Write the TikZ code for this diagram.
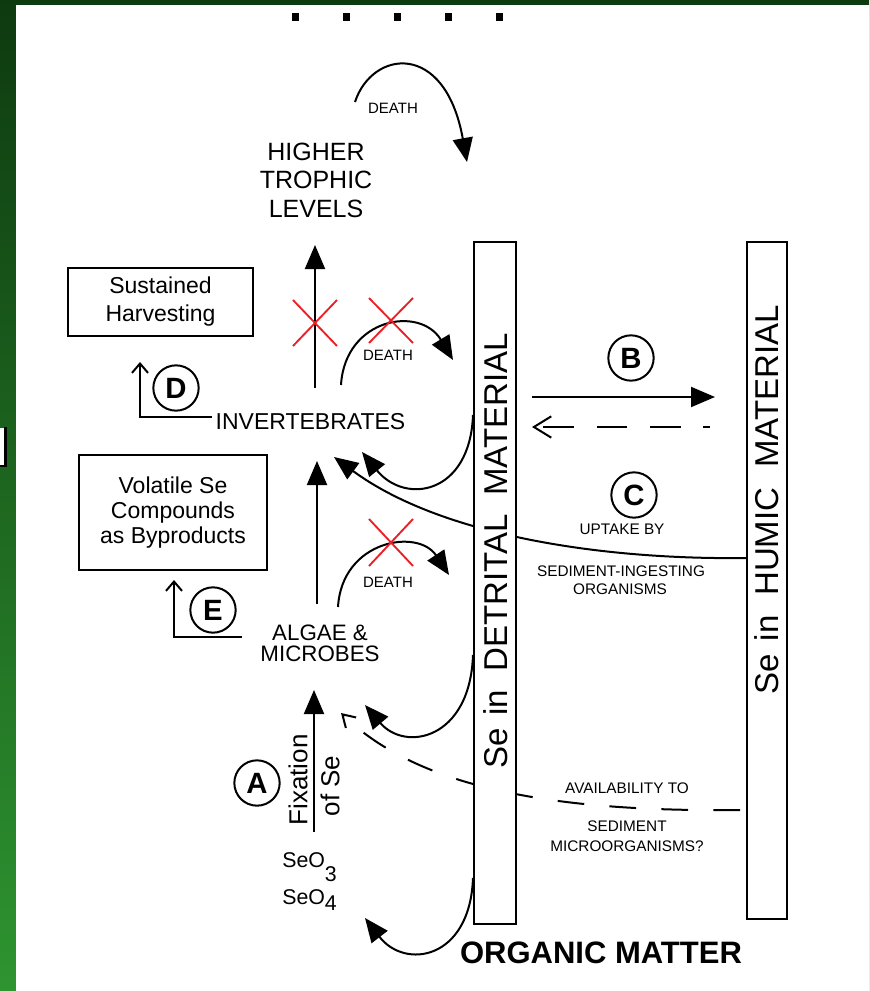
\documentclass[tikz,border=0pt]{standalone}
\usepackage{fontspec}
\setmainfont{Liberation Sans}
\usetikzlibrary{arrows.meta}
\definecolor{gdark}{RGB}{14,58,16}
\definecolor{glight}{RGB}{46,148,48}
\definecolor{xred}{RGB}{234,32,38}
\newcommand{\fsz}[2]{\fontsize{#1}{#2}\selectfont}
\begin{document}
\begin{tikzpicture}[x=0.75pt,y=-0.75pt,
 ln/.style={line width=1.5pt},
 hd/.style={-{Triangle[length=18pt,width=15pt]}},
 barb/.style={-{Straight Barb[length=7pt,width=12pt]}},
 obarb/.style={-{Straight Barb[length=13pt,width=16pt]}},
 sbarb/.style={-{Straight Barb[length=9pt,width=11pt]}},
 circ/.style={draw,circle,line width=1.5pt,minimum size=34pt,inner sep=0pt,font=\bfseries\fsz{22pt}{22pt}},
 redx/.style={draw=xred,line width=1.4pt},
 bar/.style={draw,line width=1.5pt,fill=white,inner sep=0pt},
 small/.style={font=\fsz{11.5pt}{12pt},inner sep=0pt},
 lab/.style={font=\fsz{17.25pt}{20pt},inner sep=0pt,align=center},
 bartext/.style={font=\fsz{24.75pt}{26pt},inner sep=0pt,rotate=90},
 boxn/.style={draw,line width=1.5pt,inner sep=0pt,align=center},
]
\useasboundingbox (0,0) rectangle (869,991);
% background
\shade[top color=gdark,bottom color=glight] (0,0) rectangle (869,991);
\fill[white] (16,5) rectangle (869,991);
\fill[white] (0,428) rectangle (5,465);
\draw[line width=1.6pt] (5.5,427) -- (5.5,466) -- (0,466);
% dots
\foreach \x in {295,346,397,448,499} \fill (\x-3.5,13) rectangle (\x+3.5,21);

% coordinates
\coordinate (d1s) at (355,102);   \coordinate (d1e) at (467,162);
\coordinate (d2s) at (341,385);   \coordinate (d2e) at (453,360);
\coordinate (d3s) at (338,607);   \coordinate (d3e) at (449,575);
\coordinate (v1s) at (315,388);   \coordinate (v1e) at (315,245);
\coordinate (v2s) at (317,604);   \coordinate (v2e) at (317,461);
\coordinate (v3s) at (314,832);   \coordinate (v3e) at (314,690);
\coordinate (c1s) at (473,415);   \coordinate (c1e) at (362,452);
\coordinate (c2s) at (747,558);   \coordinate (c2e) at (334,457);
\coordinate (c3s) at (473,655);   \coordinate (c3e) at (365,705);
\coordinate (c4s) at (473,878);   \coordinate (c4e) at (365,918);
\coordinate (dss) at (740,810);   \coordinate (dse) at (341,713);
\coordinate (bs) at (532,397);    \coordinate (be) at (715,397);
\coordinate (bds) at (710,427);   \coordinate (bde) at (532,427);
\coordinate (Ds) at (212,417);    \coordinate (Dc) at (140,417);   \coordinate (De) at (140,362);
\coordinate (Es) at (242,637);    \coordinate (Ec) at (174,637);   \coordinate (Ee) at (174,580);

% death arcs
\draw[ln,hd] (d1s) .. controls (372,50) and (445,40) .. (d1e);
\draw[ln,hd] (d2s) .. controls (345,318) and (420,305) .. (d2e);
\draw[ln,hd] (d3s) .. controls (342,540) and (418,528) .. (d3e);
\node[small,font=\fsz{11.25pt}{12pt}] (death1) at (393,108) {DEATH};
\node[small,font=\fsz{11.25pt}{12pt}] (death2) at (388,355) {DEATH};
\node[small,font=\fsz{11.25pt}{12pt}] (death3) at (388,582) {DEATH};

% vertical arrows
\draw[ln,hd] (v1s) -- (v1e);
\draw[ln,hd] (v2s) -- (v2e);
\draw[ln,hd] (v3s) -- (v3e);

% curves from sediment
\draw[ln,hd] (c1s) .. controls (470,495) and (405,505) .. (c1e);
\draw[ln,hd] (c2s) .. controls (600,560) and (440,535) .. (c2e);
\draw[ln,hd] (c3s) .. controls (470,740) and (405,752) .. (c3e);
\draw[ln,hd] (c4s) .. controls (470,960) and (405,970) .. (c4e);
\draw[ln,sbarb,dash pattern=on 20pt off 19pt] (dss) .. controls (560,812) and (420,790) .. (dse);

% B arrows
\draw[ln,hd] (bs) -- (be);
\draw[ln,obarb,dash pattern=on 23pt off 17pt,dash phase=18pt] (bds) -- (bde);

% bars
\node[bar,minimum width=31.5pt,minimum height=511.5pt] (detr) at (495,583) {};
\node[bar,minimum width=30pt,minimum height=507.75pt] (humic) at (767,580.5) {};
\node[bartext] (detrtxt) at (496,551) {Se\hspace{3pt} in\hspace{7pt} DETRITAL\hspace{7pt} MATERIAL};
\node[bartext] (humtxt) at (767,500) {Se\hspace{3pt} in\hspace{8pt} HUMIC\hspace{8pt} MATERIAL};

% red crosses
\draw[redx] (293,300) -- (337,346) (293,346) -- (337,300);
\draw[redx] (369,298) -- (413,343) (369,343) -- (413,298);
\draw[redx] (369,519) -- (413,566) (369,566) -- (413,519);

% labels
\node[lab,font=\fsz{18.75pt}{21.4pt}] (higher) at (316,180) {HIGHER\\TROPHIC\\LEVELS};
\node[boxn,minimum width=138.75pt,minimum height=51pt,font=\fsz{17.25pt}{21pt}] (sust) at (160.5,302) {Sustained\\Harvesting};
\node[boxn,minimum width=141pt,minimum height=86.25pt,font=\fsz{17.25pt}{19pt}] (vol) at (173,512.5) {Volatile Se\\Compounds\\as Byproducts};
\node[lab] (invert) at (310.5,422) {INVERTEBRATES};
\node[lab,font=\fsz{16.75pt}{15.75pt}] (algae) at (320,643) {ALGAE \&\\MICROBES};

% circles
\node[circ] (D) at (176,388) {D};
\node[circ] (E) at (213,610) {E};
\node[circ] (A) at (257,783) {A};
\node[circ] (B) at (631,358) {B};
\node[circ] (C) at (634,495) {C};

% L arrows
\draw[line width=1.5pt,barb] (Ds) -- (Dc) -- (De);
\draw[line width=1.5pt,barb] (Es) -- (Ec) -- (Ee);

% fixation
\node[inner sep=0pt,rotate=90,font=\fsz{19.5pt}{20pt}] (fix) at (298,780) {Fixation};
\node[inner sep=0pt,rotate=90,font=\fsz{19.5pt}{20pt}] (ofse) at (330,786) {of Se};
\node[inner sep=0pt,anchor=base west,font=\fsz{16pt}{17pt}] (seo3) at (282,867) {SeO\raisebox{-11pt}{3}};
\node[inner sep=0pt,anchor=base west,font=\fsz{16pt}{17pt}] (seo4) at (282,904) {SeO\raisebox{-4.5pt}{4}};

% small texts
\node[small] (uptake) at (622,529) {UPTAKE BY};
\node[small] (sedi) at (621,571) {SEDIMENT-INGESTING};
\node[small] (orgs) at (620,589) {ORGANISMS};
\node[small] (avail) at (627,788) {AVAILABILITY TO};
\node[small] (sedm) at (627,826) {SEDIMENT};
\node[small] (micro) at (627,846) {MICROORGANISMS?};

\node[inner sep=0pt,font=\bfseries\fsz{23.25pt}{24pt}] (orgm) at (601,953) {ORGANIC MATTER};
\end{tikzpicture}
\end{document}
